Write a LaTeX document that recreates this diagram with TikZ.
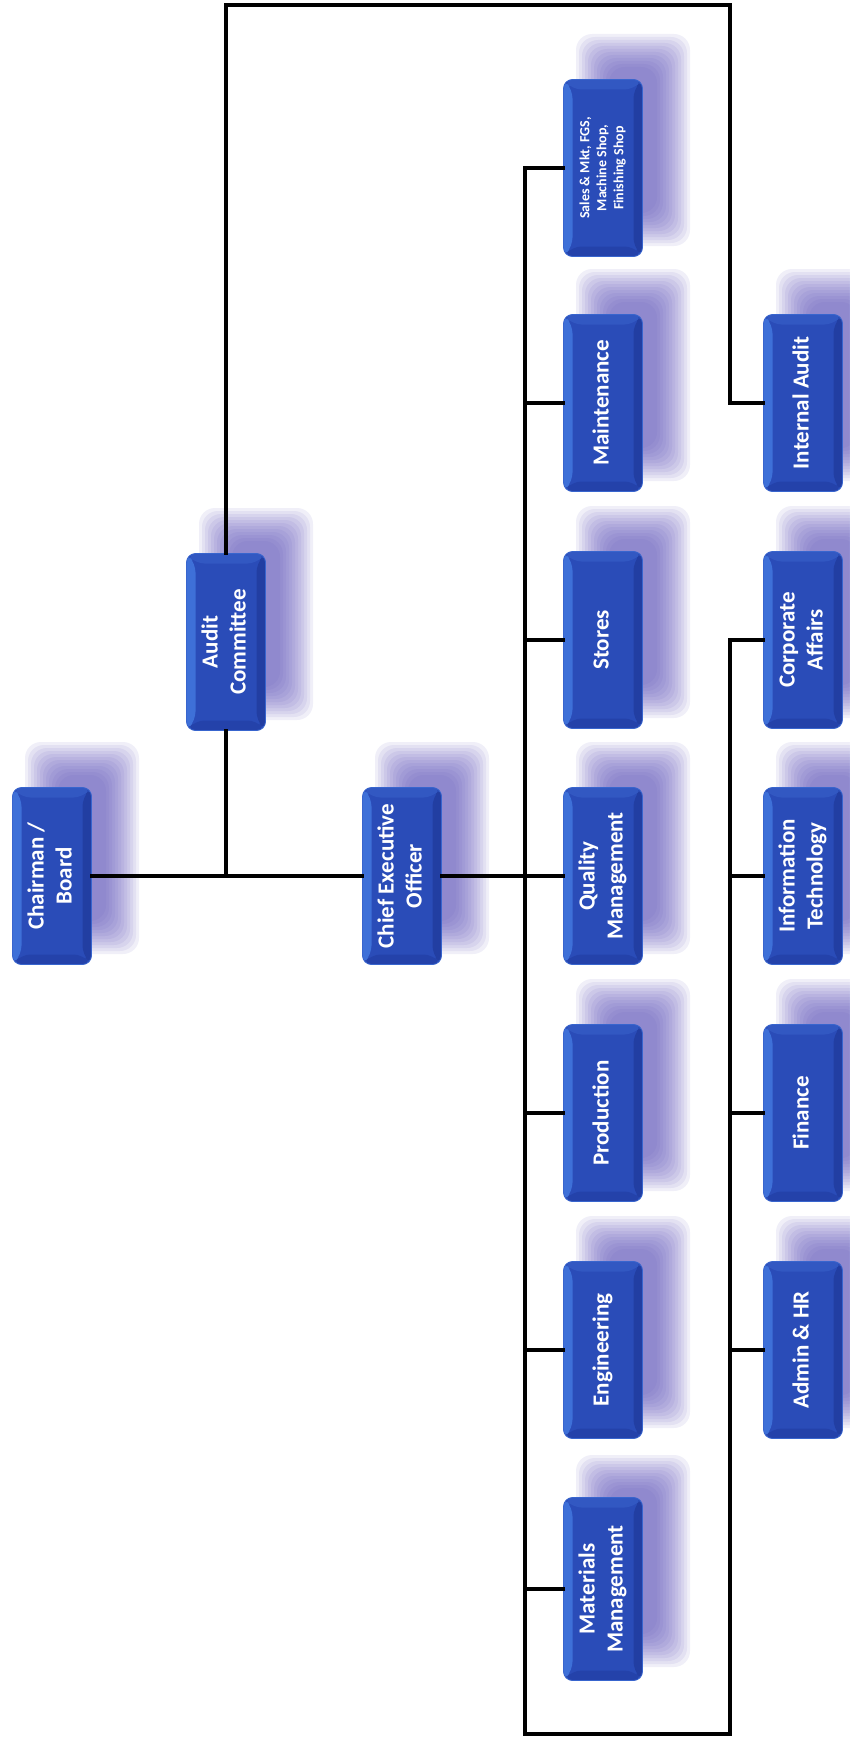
\documentclass[tikz,border=0pt]{standalone}
\usepackage{fontspec}
\setmainfont{Carlito}
\usepackage{graphicx}
\usetikzlibrary{calc}
\definecolor{boxface}{RGB}{42,76,184}
\definecolor{bevleft}{RGB}{62,112,216}
\definecolor{bevtop}{RGB}{50,88,194}
\definecolor{bevright}{RGB}{34,62,162}
\definecolor{bevbot}{RGB}{36,66,170}
\definecolor{shadowcol}{RGB}{96,88,188}
\tikzset{
  orgnode/.style={rectangle, rounded corners=9pt, minimum width=79pt, minimum height=177pt,
    inner sep=0pt, fill=boxface, draw=bevleft!70!boxface, line width=0.8pt, text=white,
    font=\bfseries\fontsize{23}{28}\selectfont,
    path picture={
      \fill[bevleft] (path picture bounding box.north west) -- ([shift={(9pt,-10pt)}]path picture bounding box.north west)
        -- ([shift={(9pt,10pt)}]path picture bounding box.south west) -- (path picture bounding box.south west) -- cycle;
      \fill[bevtop] (path picture bounding box.north west) -- (path picture bounding box.north east)
        -- ([shift={(-9pt,-10pt)}]path picture bounding box.north east) -- ([shift={(9pt,-10pt)}]path picture bounding box.north west) -- cycle;
      \fill[bevright] (path picture bounding box.north east) -- (path picture bounding box.south east)
        -- ([shift={(-9pt,10pt)}]path picture bounding box.south east) -- ([shift={(-9pt,-10pt)}]path picture bounding box.north east) -- cycle;
      \fill[bevbot] (path picture bounding box.south west) -- (path picture bounding box.south east)
        -- ([shift={(-9pt,10pt)}]path picture bounding box.south east) -- ([shift={(9pt,10pt)}]path picture bounding box.south west) -- cycle;
    }},
  smalltext/.style={font=\bfseries\fontsize{14}{17}\selectfont},
  link/.style={draw=black, line width=3.2pt, line join=miter, line cap=rect},
  shadowlayer/.style={fill=shadowcol, fill opacity=0.09, rounded corners=16pt}
}
\newcommand\orgshadow[2]{%
  \foreach \k [evaluate=\k as \w using 57-3*\k, evaluate=\k as \h using 106-3*\k] in {0,...,11}{%
    \path[shadowlayer] (#1+30-\w,#2-28-\h) rectangle (#1+30+\w,#2-28+\h);
  }%
}
\newcommand\orgbox[5][]{%
  \orgshadow{#3}{#4}%
  \node[orgnode,#1] (#2) at (#3,#4) {\rotatebox{90}{\begin{tabular}{@{}c@{}}#5\end{tabular}}};%
}
\begin{document}
\begin{tikzpicture}[x=1pt,y=-1pt]
\fill[white] (0,0) rectangle (849,1742);
\useasboundingbox (0,0) rectangle (849,1742);

% boxes
\orgbox{chair}{52}{876}{Chairman /\\Board}
\orgbox{audit}{226}{642}{Audit\\Committee}
\orgbox{ceo}{402}{876}{Chief Executive\\Officer}

\orgbox[smalltext]{sales}{603}{168}{Sales \& Mkt, FGS,\\Machine Shop,\\Finishing Shop}
\orgbox{mnt}{603}{403}{Maintenance}
\orgbox{stores}{603}{640}{Stores}
\orgbox{qm}{603}{876}{Quality\\Management}
\orgbox{prod}{603}{1113}{Production}
\orgbox{eng}{603}{1350}{Engineering}
\orgbox[minimum height=183pt]{mm}{603}{1589}{Materials\\Management}

\orgbox{ia}{803}{403}{Internal Audit}
\orgbox{corp}{803}{640}{Corporate\\Affairs}
\orgbox{it}{803}{876}{Information\\Technology}
\orgbox{fin}{803}{1113}{Finance}
\orgbox{adm}{803}{1350}{Admin \& HR}

% coordinates for the buses
\coordinate (topL) at (228,5);
\coordinate (topR) at (730,5);
\coordinate (b1) at (525,1734);
\coordinate (b2) at (730,1734);

% connectors
\draw[link] (chair.east) -- (ceo.west);
\draw[link] (audit.south) -- (audit.south |- chair.east);
\draw[link] (audit.north) -- (audit.north |- topL) -- (topR) |- (ia.west);
\draw[link] (ceo.east) -- (qm.west);
\draw[link] (sales.west) -| (b1) -- (b2) |- (corp.west);
\foreach \n in {mnt,stores,prod,eng,mm}{
  \draw[link] (b1 |- \n.west) -- (\n.west);
}
\foreach \n in {it,fin,adm}{
  \draw[link] (b2 |- \n.west) -- (\n.west);
}
\end{tikzpicture}
\end{document}
